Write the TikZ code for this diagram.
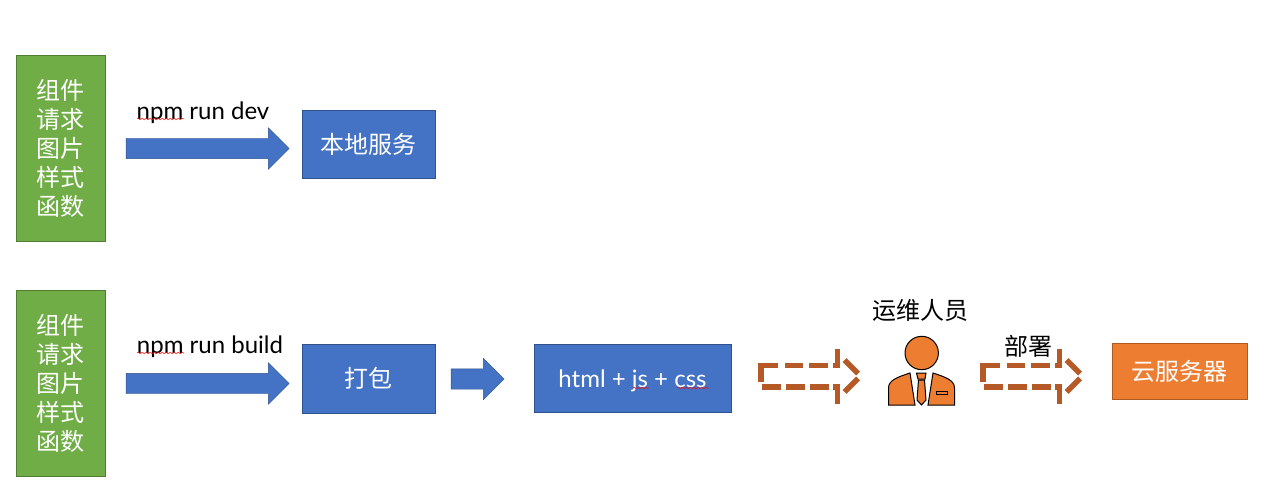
\documentclass[tikz,border=0pt]{standalone}
\usepackage{fontspec}
\setmainfont{Noto Sans CJK SC}
\newfontfamily\latinfont{Lato}
\usepackage{xcolor}
\usepackage{tikz}
\usetikzlibrary{shapes.arrows,decorations.pathmorphing}
\definecolor{pptgreen}{HTML}{70AD47}
\definecolor{pptgreenb}{HTML}{507E32}
\definecolor{pptblue}{HTML}{4472C4}
\definecolor{pptblueb}{HTML}{2F528F}
\definecolor{pptorange}{HTML}{ED7D31}
\definecolor{pptorangeb}{HTML}{AE5A21}
\definecolor{dashbrown}{HTML}{B55A26}
\tikzset{
box/.style={draw,line width=0.8pt,inner sep=0,text=white,align=center},
greenbox/.style={box,fill=pptgreen,draw=pptgreenb,minimum width=89pt,minimum height=186pt},
bluebox/.style={box,fill=pptblue,draw=pptblueb},
orangebox/.style={box,fill=pptorange,draw=pptorangeb},
bigarrow/.style={single arrow,shape border rotate=0,fill=pptblue,draw=pptblueb,line width=0.4pt,inner xsep=0,inner ysep=10pt,single arrow head extend=10.5pt},
dashseg/.style={draw=dashbrown,line width=5.5pt},
label/.style={inner sep=0,text=black},
squiggle/.style={red,line width=0.5pt,decorate,decoration={snake,amplitude=0.8pt,segment length=4pt}}
}
\begin{document}
\begin{tikzpicture}[x=1pt,y=-1pt,font=\fontsize{24}{29}\selectfont]
\useasboundingbox (0,0) rectangle (1275,497);
% left boxes
\node[greenbox] (srcdev) at (60.5,148) {组件\\请求\\图片\\样式\\函数};
\node[greenbox] (srcbuild) at (60.5,383) {组件\\请求\\图片\\样式\\函数};
% blue and orange boxes
\node[bluebox,minimum width=133pt,minimum height=68pt] (local) at (368.5,144) {本地服务};
\node[bluebox,minimum width=133pt,minimum height=69pt] (pack) at (368.5,378.5) {打包};
\node[bluebox,minimum width=197pt,minimum height=68pt,text height=20pt,text depth=2pt,font=\latinfont\fontsize{24}{29}\selectfont] (bundle) at (632.5,378) {html + js + css};
\node[orangebox,minimum width=135pt,minimum height=56pt] (cloud) at (1179.5,371) {云服务器};
% block arrows
\node[bigarrow,minimum height=163pt] (arrowdev) at (202.5,148.5) {};
\node[bigarrow,minimum height=163pt] (arrowbuild) at (202.5,383.5) {};
\node[bigarrow,minimum height=53pt] (arrowpack) at (472.5,379) {};
% dashed arrows
\foreach \dx in {0,222}{
\begin{scope}[shift={(\dx,0)}]
\draw[dashseg] (761,382)--(761,365.5)--(778,365.5);
\draw[dashseg] (785,365.5)--(803,365.5);
\draw[dashseg] (809,365.5)--(828,365.5);
\draw[dashseg] (833,365.5)--(837.5,365.5)--(837.5,349);
\draw[dashseg] (844.5,360)--(858,373.5);
\draw[dashseg] (858,378.5)--(844.5,392);
\draw[dashseg] (833,387.2)--(837.5,387.2)--(837.5,404);
\draw[dashseg] (810,387.2)--(829,387.2);
\draw[dashseg] (786,387.2)--(805,387.2);
\draw[dashseg] (762,387.2)--(781,387.2);
\end{scope}
}
% labels
\node[label,font=\latinfont\fontsize{24}{29}\selectfont] (devlabel) at (203,113) {npm run dev};
\node[label,font=\latinfont\fontsize{24}{29}\selectfont] (buildlabel) at (210,347) {npm run build};
\node[label] (opslabel) at (920,310) {运维人员};
\node[label] (deploylabel) at (1028,346) {部署};
% spell check lines
\draw[squiggle] (137,119)--(184,119);
\draw[squiggle] (137,353)--(184,353);
\draw[squiggle] (633,388)--(649,388);
\draw[squiggle] (677,388)--(709,388);
% person
\draw[fill=pptorange,line width=1pt] (921.7,353) circle (16.7);
\draw[fill=pptorange,line width=1pt] (910,373)--(915,405)--(888.5,405)--(888.5,388)
.. controls (888.5,380) and (898,377) .. (910,373)--cycle;
\draw[fill=pptorange,line width=1pt] (933,373)--(928,405)--(954.5,405)--(954.5,388)
.. controls (954.5,380) and (945,377) .. (933,373)--cycle;
\draw[fill=pptorange,line width=1pt] (916.5,373)--(926,373)--(925,379)--(918,379)--cycle;
\draw[fill=pptorange,line width=1pt] (918.5,380)--(924.5,380)--(926,400)--(921.5,405)--(917,400)--cycle;
\draw[fill=pptorange,line width=1pt] (936.5,391.5) rectangle (947.5,394.5);
\end{tikzpicture}
\end{document}
